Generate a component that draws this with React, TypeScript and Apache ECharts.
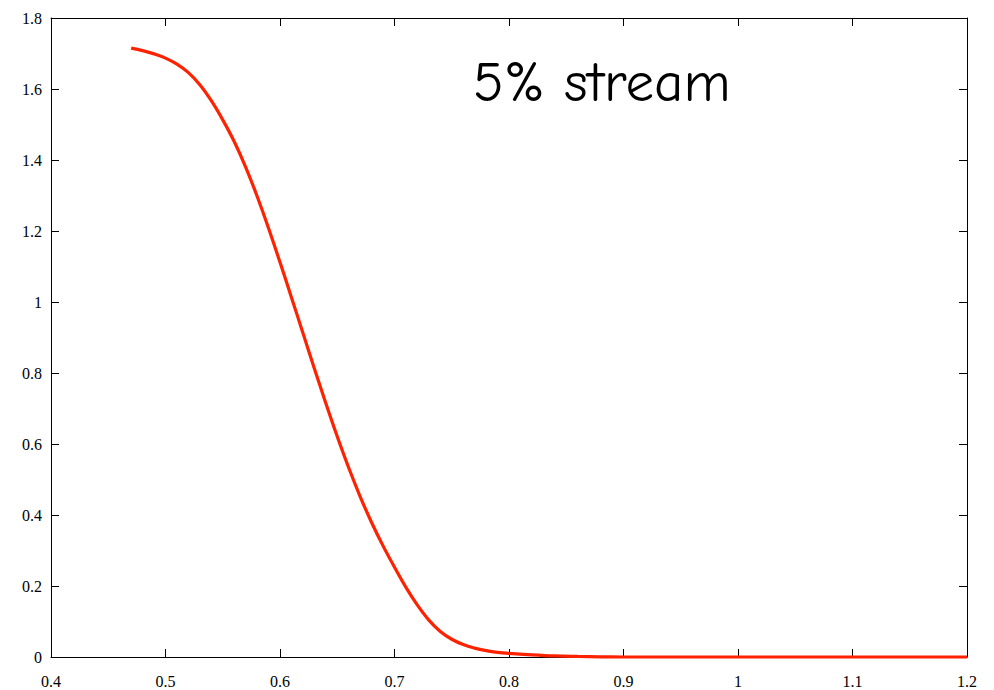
import React, { useEffect, useRef } from "react";
import * as echarts from "echarts";

// Profile of the 5% stream: position vs. value
const xValues = [
  0.47, 0.48, 0.49, 0.5, 0.51, 0.52, 0.53, 0.54, 0.55, 0.56, 0.57, 0.58, 0.59,
  0.6, 0.61, 0.62, 0.63, 0.64, 0.65, 0.66, 0.67, 0.68, 0.69, 0.7, 0.71, 0.72,
  0.73, 0.74, 0.75, 0.76, 0.77, 0.78, 0.79, 0.8, 0.82, 0.84, 0.86, 0.88, 0.9,
  1.0, 1.1, 1.2,
];
const yValues = [
  1.715, 1.708, 1.699, 1.687, 1.67, 1.646, 1.612, 1.567, 1.513, 1.452, 1.38,
  1.298, 1.208, 1.112, 1.013, 0.913, 0.813, 0.715, 0.621, 0.533, 0.452, 0.379,
  0.313, 0.253, 0.196, 0.146, 0.104, 0.072, 0.05, 0.035, 0.025, 0.018, 0.013,
  0.01, 0.006, 0.003, 0.0015, 0.0005, 0, 0, 0, 0,
];

const xTicks = [0.4, 0.5, 0.6, 0.7, 0.8, 0.9, 1, 1.1, 1.2];
const yTicks = [0, 0.2, 0.4, 0.6, 0.8, 1, 1.2, 1.4, 1.6, 1.8];

const titleText = "5% stream";

const labelFont = {
  fontFamily: "Times New Roman, Liberation Serif, serif",
  fontSize: 16,
  color: "#000",
};

const fmt = (v: number) => String(Math.round(v * 10) / 10);

export default function App() {
  const ref = useRef<HTMLDivElement>(null);

  useEffect(() => {
    if (!ref.current) return;
    const chart = echarts.init(ref.current, null, { renderer: "svg" });

    const lineStyle = { color: "#000", width: 1 };
    const tick = { show: true, inside: true, length: 8, lineStyle };

    const xBase = {
      type: "value" as const,
      min: xTicks[0],
      max: xTicks[xTicks.length - 1],
      interval: 0.1,
      splitLine: { show: false },
      axisLine: { show: true, onZero: false, lineStyle },
      axisTick: tick,
    };
    const yBase = {
      type: "value" as const,
      min: yTicks[0],
      max: yTicks[yTicks.length - 1],
      interval: 0.2,
      splitLine: { show: false },
      axisLine: { show: true, onZero: false, lineStyle },
      axisTick: tick,
    };

    chart.setOption({
      animation: false,
      backgroundColor: "#fff",
      grid: { left: 51, right: 27, top: 18, bottom: 33 },
      xAxis: [
        {
          ...xBase,
          position: "bottom",
          axisLabel: { ...labelFont, margin: 16, formatter: fmt },
        },
        { ...xBase, position: "top", axisLabel: { show: false } },
      ],
      yAxis: [
        {
          ...yBase,
          position: "left",
          axisLabel: { ...labelFont, margin: 9, formatter: fmt },
        },
        { ...yBase, position: "right", axisLabel: { show: false } },
      ],
      graphic: [
        {
          type: "text",
          left: 473,
          top: 54,
          style: {
            text: titleText,
            font: "57px 'Comic Sans MS', 'Comic Neue', 'Noto Sans', sans-serif",
            fill: "#000",
          },
        },
      ],
      series: [
        {
          type: "line",
          data: xValues.map((x, i) => [x, yValues[i]]),
          showSymbol: false,
          smooth: 0.4,
          clip: false,
          lineStyle: { color: "#ff2200", width: 3.2 },
          z: 3,
        },
      ],
    });

    return () => chart.dispose();
  }, []);

  return (
    <div
      ref={ref}
      style={{ position: "fixed", left: 0, top: 0, width: 994, height: 690 }}
    />
  );
}
